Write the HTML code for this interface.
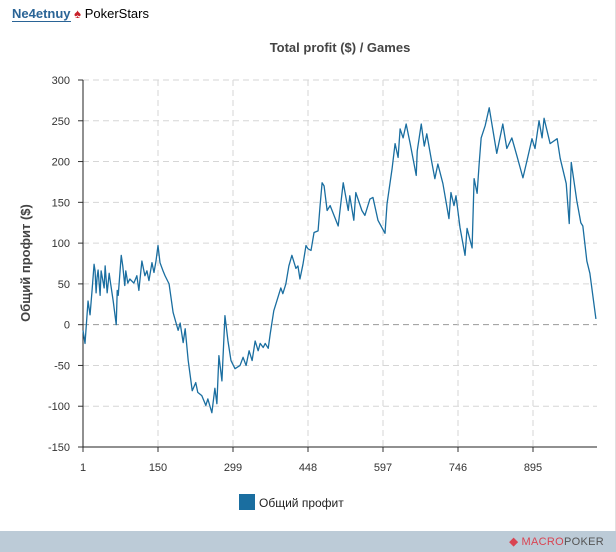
<!DOCTYPE html>
<html><head><meta charset="utf-8">
<style>
body{margin:0;width:616px;height:552px;background:#fff;overflow:hidden;font-family:"Liberation Sans",sans-serif;position:relative}
#hdr{position:absolute;left:12px;top:6px;font-size:13px}
#hdr .nick{color:#2a6496;font-weight:bold;border-bottom:1px solid #2a6496}
#foot{position:absolute;left:0;top:531px;width:616px;height:21px;background:#bccbd7}
#foot .logo{position:absolute;right:12px;top:4px;font-size:11px;color:#555;letter-spacing:0.3px;white-space:nowrap}
</style></head><body>
<div id="hdr"><span class="nick">Ne4etnuy</span> <span style="color:#c8202a">♠</span> <span>PokerStars</span></div>
<svg id="chart" width="616" height="552" style="position:absolute;left:0;top:0"></svg>
<div id="foot"><div class="logo"><b style="color:#d94452">◆</b> <b style="color:#d94452;font-weight:normal">MACRO</b>POKER</div></div>
<script>
const games=[1,5,11,15,19,23,25,27,29,31,35,37,43,45,49,53,55,61,67,69,71,75,77,80,84,86,90,94,102,108,112,118,124,128,132,138,142,146,150,154,160,164,172,180,190,194,200,204,210,218,225,229,237,245,249,257,263,267,271,277,283,289,295,303,313,319,325,331,337,343,349,353,359,363,369,373,380,386,394,398,404,410,416,424,428,432,438,444,448,454,460,468,472,476,480,486,492,508,518,528,531,539,543,555,561,571,577,587,601,605,615,621,627,631,637,643,651,663,665,673,679,684,694,700,706,716,728,732,738,742,750,760,764,774,778,784,788,792,800,808,823,835,843,853,863,875,883,893,899,907,913,917,929,943,949,961,967,971,982,990,994,1002,1008,1020];
const profit=[-7,-23,29,12,42,74,66,39,58,67,36,66,45,72,39,63,54,29,0,42,36,69,85,72,48,66,51,56,51,60,42,78,60,66,54,76,64,78,97,76,66,60,50,15,-7,2,-22,-5,-44,-81,-71,-83,-87,-99,-91,-108,-78,-97,-38,-69,11,-20,-44,-54,-50,-40,-50,-32,-44,-20,-32,-23,-28,-23,-29,-11,17,29,45,38,50,72,85,69,72,56,74,97,93,91,113,115,146,174,170,140,146,121,174,140,158,128,162,140,134,154,156,128,112,148,191,222,205,240,229,246,222,183,213,246,219,234,199,179,197,173,130,162,146,158,119,85,118,94,179,161,197,229,244,266,210,246,216,229,207,180,201,228,216,250,229,253,222,228,204,173,124,199,152,125,121,78,63,7];
const yTicks=[300,250,200,150,100,50,0,-50,-100,-150];
const xTicks=[1,150,299,448,597,746,895];
const NS='http://www.w3.org/2000/svg';
const svg=document.getElementById('chart');
const X0=83,X1=597,Y0=80,Y1=447;
const xs=g=>X0+(g-1)*75/149;
const ys=v=>Y0+(300-v)*(Y1-Y0)/450;
function mk(t,a){const e=document.createElementNS(NS,t);for(const k in a)e.setAttribute(k,a[k]);svg.appendChild(e);return e;}
yTicks.forEach(v=>{
  const l=mk('line',{x1:X0,x2:X1,y1:ys(v),y2:ys(v),stroke:v===0?'#999':'#d6d6d6','stroke-dasharray':'6,4'});
  
  
  const t=mk('text',{x:X0-13,y:ys(v)+4,'text-anchor':'end','font-size':11,fill:'#333'});
  t.textContent=v;
  
  
  const k=mk('line',{x1:X0-5,x2:X0,y1:ys(v),y2:ys(v),stroke:'#333'});
  
  
});
xTicks.forEach(g=>{
  if(g>1){const l=mk('line',{x1:xs(g),x2:xs(g),y1:Y0,y2:Y1,stroke:'#d6d6d6','stroke-dasharray':'6,4'});
  
  }
  const k=mk('line',{x1:xs(g),x2:xs(g),y1:Y1,y2:Y1+5,stroke:'#333'});
  
  
  const t=mk('text',{x:xs(g),y:Y1+24,'text-anchor':'middle','font-size':11,fill:'#333'});
  t.textContent=g;
  
  
});
const ax=mk('path',{d:`M${X0},${Y0} V${Y1} H${X1}`,stroke:'#222',fill:'none'});


const line=mk('polyline',{points:games.map((g,i)=>xs(g)+','+ys(profit[i])).join(' '),fill:'none',stroke:'#1a6ea0','stroke-width':1.3,'stroke-linejoin':'round'});


const ti=mk('text',{x:340,y:52,'text-anchor':'middle','font-size':13,'font-weight':'bold',fill:'#444'});
ti.textContent='Total profit ($) / Games';


const yl=mk('text',{x:30,y:263,'text-anchor':'middle','font-size':13,'font-weight':'bold',fill:'#444',transform:'rotate(-90 30 263)'});
yl.textContent='Общий профит ($)';


const ls=mk('rect',{x:239,y:494,width:16,height:16,fill:'#1a6ea0'});


const lt=mk('text',{x:259,y:507,'font-size':12,fill:'#222'});
lt.textContent='Общий профит';


const br=mk('line',{x1:615.5,x2:615.5,y1:0,y2:552,stroke:'#e0e0e0'});


</script>
</body></html>
